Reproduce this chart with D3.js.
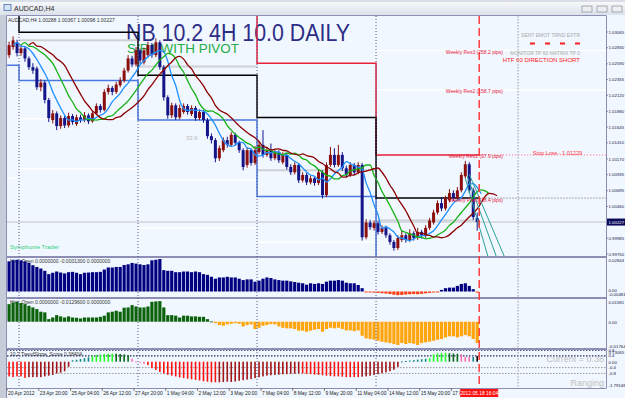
<!DOCTYPE html>
<html><head><meta charset="utf-8">
<script src="https://cdn.jsdelivr.net/npm/d3@7"></script>
<style>body{margin:0;background:#dfe4ec;overflow:hidden}svg{display:block}text{font-family:"Liberation Sans",Arial,sans-serif}</style>
</head><body><script>
// ---------------- DATA ----------------
const opens=[1.0272,1.0284,1.0291,1.0275,1.0282,1.0267,1.0254,1.0252,1.0224,1.0231,1.0205,1.0175,1.0185,1.0166,1.0178,1.0167,1.0181,1.0169,1.0179,1.0175,1.0182,1.0173,1.0185,1.0196,1.0190,1.0217,1.0223,1.0217,1.0227,1.0234,1.0249,1.0267,1.0258,1.0279,1.0261,1.0272,1.0287,1.0272,1.0291,1.0254,1.0209,1.0182,1.0197,1.0179,1.0187,1.0196,1.0184,1.0193,1.0178,1.0187,1.0175,1.0151,1.0145,1.0118,1.0130,1.0145,1.0138,1.0153,1.0141,1.0130,1.0108,1.0130,1.0111,1.0127,1.0138,1.0123,1.0130,1.0118,1.0127,1.0112,1.0123,1.0105,1.0097,1.0108,1.0085,1.0093,1.0082,1.0088,1.0081,1.0097,1.0063,1.0108,1.0123,1.0108,1.0123,1.0103,1.0093,1.0108,1.0097,1.0108,1.0000,1.0022,1.0014,1.0021,1.0008,1.0014,1.0003,0.9993,0.9984,0.9996,1.0003,0.9996,1.0006,0.9999,1.0008,1.0002,1.0014,1.0022,1.0037,1.0051,1.0043,1.0055,1.0066,1.0058,1.0070,1.0091,1.0109,1.0070,1.00288];
const highs=[1.0292,1.0300,1.0295,1.0288,1.0285,1.0270,1.0260,1.0255,1.0236,1.0234,1.0208,1.0190,1.0188,1.0182,1.0181,1.0186,1.0184,1.0183,1.0183,1.0187,1.0185,1.0189,1.0200,1.0199,1.0221,1.0228,1.0226,1.0232,1.0239,1.0253,1.0272,1.0271,1.0284,1.0282,1.0283,1.0292,1.0290,1.0297,1.0294,1.0257,1.0212,1.0201,1.0200,1.0198,1.0200,1.0199,1.0197,1.0196,1.0191,1.0190,1.0178,1.0155,1.0148,1.0137,1.0149,1.0150,1.0157,1.0156,1.0144,1.0133,1.0134,1.0133,1.0136,1.0143,1.0160,1.0135,1.0140,1.0131,1.0130,1.0127,1.0126,1.0109,1.0112,1.0111,1.0097,1.0096,1.0092,1.0091,1.0101,1.0100,1.0112,1.0135,1.0133,1.0138,1.0127,1.0107,1.0112,1.0111,1.0112,1.0111,1.0027,1.0026,1.0025,1.0024,1.0018,1.0017,1.0006,0.9996,1.0003,1.0010,1.0006,1.0012,1.0009,1.0014,1.0011,1.0018,1.0029,1.0041,1.0055,1.0060,1.0062,1.0072,1.0070,1.0075,1.0097,1.0114,1.0112,1.0074,1.00367];
const lows=[1.0268,1.0280,1.0270,1.0271,1.0262,1.0250,1.0244,1.0220,1.0218,1.0200,1.0172,1.0170,1.0160,1.0162,1.0163,1.0164,1.0168,1.0166,1.0171,1.0172,1.0169,1.0171,1.0182,1.0186,1.0188,1.0213,1.0212,1.0214,1.0224,1.0231,1.0246,1.0254,1.0255,1.0259,1.0258,1.0268,1.0268,1.0269,1.0250,1.0204,1.0177,1.0178,1.0175,1.0176,1.0184,1.0183,1.0181,1.0174,1.0175,1.0171,1.0147,1.0140,1.0112,1.0114,1.0127,1.0134,1.0135,1.0137,1.0126,1.0100,1.0104,1.0107,1.0108,1.0124,1.0119,1.0120,1.0114,1.0115,1.0111,1.0109,1.0101,1.0093,1.0094,1.0081,1.0082,1.0078,1.0079,1.0077,1.0078,1.0058,1.0060,1.0105,1.0104,1.0105,1.0099,1.0089,1.0090,1.0093,1.0094,0.9995,0.9997,1.0011,1.0010,1.0004,1.0005,0.9999,0.9989,0.9980,0.9981,0.9993,0.9992,0.9993,0.9995,0.9996,0.9998,0.9999,1.0011,1.0019,1.0034,1.0039,1.0040,1.0052,1.0054,1.0055,1.0067,1.0088,1.0066,1.0026,1.00098];
const closes=[1.0287,1.0294,1.0275,1.0282,1.0267,1.0254,1.0249,1.0224,1.0231,1.0205,1.0178,1.0185,1.0166,1.0178,1.0167,1.0181,1.0172,1.0179,1.0175,1.0182,1.0173,1.0185,1.0196,1.0190,1.0217,1.0223,1.0217,1.0228,1.0234,1.0249,1.0267,1.0258,1.0279,1.0264,1.0279,1.0287,1.0272,1.0291,1.0254,1.0209,1.0182,1.0197,1.0179,1.0193,1.0196,1.0187,1.0193,1.0178,1.0187,1.0175,1.0151,1.0145,1.0118,1.0133,1.0145,1.0138,1.0153,1.0141,1.0130,1.0105,1.0130,1.0111,1.0130,1.0138,1.0123,1.0130,1.0118,1.0127,1.0115,1.0123,1.0105,1.0097,1.0108,1.0085,1.0093,1.0082,1.0088,1.0081,1.0097,1.0063,1.0108,1.0123,1.0108,1.0123,1.0103,1.0093,1.0108,1.0097,1.0108,1.0000,1.0022,1.0015,1.0021,1.0008,1.0014,1.0003,0.9993,0.9984,0.9999,1.0003,0.9996,1.0006,0.9999,1.0008,1.0002,1.0014,1.0025,1.0037,1.0051,1.0043,1.0058,1.0066,1.0058,1.0070,1.0093,1.0109,1.0070,1.0030,1.00227];

const histA=[0.0264,0.0273,0.0278,0.0273,0.0264,0.0250,0.0230,0.0215,0.0201,0.0181,0.0152,0.0164,0.0175,0.0166,0.0158,0.0169,0.0172,0.0164,0.0152,0.0164,0.0166,0.0169,0.0169,0.0172,0.0192,0.0210,0.0210,0.0215,0.0215,0.0232,0.0238,0.0250,0.0244,0.0238,0.0232,0.0238,0.0273,0.0278,0.0284,0.0187,0.0181,0.0181,0.0169,0.0169,0.0175,0.0175,0.0169,0.0175,0.0169,0.0152,0.0146,0.0129,0.0112,0.0123,0.0123,0.0129,0.0123,0.0123,0.0112,0.0100,0.0106,0.0106,0.0086,0.0095,0.0112,0.0123,0.0118,0.0106,0.0100,0.0095,0.0095,0.0089,0.0083,0.0077,0.0072,0.0060,0.0072,0.0066,0.0072,0.0066,0.0086,0.0095,0.0095,0.0100,0.0095,0.0077,0.0072,0.0072,0.0057,0.0029,-0.0006,-0.0008,-0.0010,-0.0012,-0.0015,-0.0018,-0.0022,-0.0028,-0.0032,-0.0030,-0.0026,-0.0024,-0.0022,-0.0024,-0.0020,-0.0016,-0.0012,-0.0008,-0.0004,0.0014,0.0029,0.0034,0.0034,0.0049,0.0066,0.0072,0.0049,0.0020,-0.0009];
const histB=[0.0128,0.0140,0.0145,0.0136,0.0128,0.0116,0.0104,0.0092,0.0073,0.0068,0.0019,0.0031,0.0048,0.0039,0.0031,0.0039,0.0031,0.0029,0.0024,0.0031,0.0031,0.0031,0.0031,0.0036,0.0044,0.0068,0.0073,0.0080,0.0073,0.0102,0.0104,0.0121,0.0111,0.0104,0.0104,0.0111,0.0145,0.0148,0.0150,0.0104,0.0048,0.0048,0.0044,0.0031,0.0044,0.0044,0.0039,0.0039,0.0036,0.0036,0.0019,0.0002,-0.0010,-0.0024,-0.0029,-0.0019,-0.0015,-0.0010,-0.0015,-0.0034,-0.0024,-0.0019,-0.0053,-0.0044,-0.0029,-0.0024,-0.0017,-0.0019,-0.0034,-0.0044,-0.0048,-0.0048,-0.0053,-0.0065,-0.0065,-0.0073,-0.0065,-0.0058,-0.0053,-0.0073,-0.0053,-0.0044,-0.0048,-0.0044,-0.0053,-0.0063,-0.0063,-0.0068,-0.0063,-0.0102,-0.0121,-0.0126,-0.0131,-0.0138,-0.0145,-0.0150,-0.0155,-0.0162,-0.0169,-0.0155,-0.0162,-0.0155,-0.0160,-0.0169,-0.0155,-0.0150,-0.0145,-0.0138,-0.0131,-0.0126,-0.0114,-0.0106,-0.0106,-0.0114,-0.0106,-0.0097,-0.0106,-0.0126,-0.0155];
const slope=[-1.00,-1.05,-1.00,-1.00,-1.10,-1.05,-1.05,-1.05,-1.05,-1.00,-0.95,-0.90,-0.80,-0.75,-0.65,-0.35,0.10,0.13,0.18,0.24,0.30,0.40,0.45,0.50,0.53,0.55,0.55,0.55,0.53,0.50,0.45,0.20,0.02,-0.05,-0.15,-0.22,-0.44,-0.56,-0.70,-0.80,-0.89,-0.95,-1.00,-1.07,-1.11,-1.16,-1.20,-1.24,-1.28,-1.33,-1.36,-1.40,-1.40,-1.40,-1.38,-1.36,-1.38,-1.35,-1.30,-1.26,-1.22,-1.18,-1.12,-1.06,-1.00,-0.95,-0.92,-0.90,-0.88,-0.85,-0.85,-0.82,-0.82,-0.80,-0.80,-0.82,-0.85,-0.88,-0.90,-0.92,-0.95,-0.98,-1.00,-1.00,-1.02,-1.05,-1.05,-1.05,-1.05,-1.02,-1.00,-0.96,-0.90,-0.85,-0.78,-0.72,-0.65,-0.55,-0.35,0.02,0.05,0.08,0.11,0.14,0.17,0.20,0.24,0.50,0.58,0.60,0.60,0.58,0.56,0.55,0.52,0.33,0.33,0.33,0.38];
// indicator buffer of each slope bar: r falling-neg, d rising-neg, t weak-pos, l strong-pos, g fading-pos, p turning
const slopeState="rrrrrdddddddddddtttttllllllggggpppprrrrrrrrrrrrrrrrrrdddddddddddddddddddddrrrrrrrrrrrrrrrddddddddddtttttttlllllgggpppt";

// weekly levels: week start/end bars
const weekStart=[0,3,33,63,93], weekEnd=[2,32,62,92,118];
const pivotBlack=[1.0335,1.0306,1.0242,1.0179,1.00585];
const resRed=[1.0345,1.0345,1.0345,1.0260,1.01229];
const supBlue=[1.0257,1.0234,1.0175,1.0061,0.9940];
const lvlGray=[null,1.0294,1.0255,1.0100,1.0025];
const lvlWhiteA=[1.0088,1.0102,1.0085,null,null];
const lvlWhiteB=[null,1.0177,1.0014,0.9993,null];
const weeklyLabels=[["Weekly Res3 (258.2 pips)",1.0279],["Weekly Res2 (158.7 pips)",1.0220],["Weekly Res1 (97.9 pips)",1.01229],["Weekly Pivot (38.4 pips)",1.00585]];

const priceTicks=[1.03065,1.02830,1.02590,1.02355,1.02120,1.01880,1.01645,1.01410,1.01170,1.00935,1.00695,1.00460,0.99985,0.99750];
const timeLabels=[["20 Apr 2012",0],["23 Apr 20:00",8],["25 Apr 04:00",16],["26 Apr 12:00",24],["27 Apr 20:00",32],["1 May 04:00",40],["2 May 12:00",48],["3 May 20:00",56],["7 May 04:00",64],["8 May 12:00",72],["9 May 20:00",80],["11 May 04:00",88],["14 May 12:00",96],["15 May 20:00",104],["17 May 04:00",112]];
const separators=[2.5,32.5,62.5,92.5];
const tealProj=[[[115,1.0088],[121,0.9965]],[[115.5,1.0091],[123.2,0.9965]],[[116,1.0094],[125.3,0.9965]]];

// ---------------- CHART ----------------
const W=625,H=398,PL=7,PR=606;
const svg=d3.select("body").append("svg").attr("width",W).attr("height",H);
const x=d3.scaleLinear().domain([0,118]).range([9.1,477.2]);
const yM=d3.scaleLinear().domain([0.99750,1.03065]).range([254,32]);
const y2=d3.scaleLinear().domain([-0.00481,0.02844]).range([297,259]);
const y3=d3.scaleLinear().domain([-0.01764,0.01581]).range([346,300]);
const y4=d3.scaleLinear().domain([-1.79148,0.73065]).range([388,351]);
const panes={main:[16,256],p2:[258,297],p3:[299,348],p4:[350,388]};

const defs=svg.append("defs");
const g1=defs.append("linearGradient").attr("id","tb").attr("x1",0).attr("y1",0).attr("x2",0).attr("y2",1);
g1.append("stop").attr("offset",0).attr("stop-color","#f6f8fb");
g1.append("stop").attr("offset",1).attr("stop-color","#dbe1ea");
Object.entries(panes).forEach(([k,[a,b]])=>{
  defs.append("clipPath").attr("id","c_"+k).append("rect").attr("x",PL).attr("y",a).attr("width",PR-PL).attr("height",b-a);
});

// window chrome
svg.append("rect").attr("width",W).attr("height",H).attr("fill","#d9dfe8");
svg.append("rect").attr("x",0).attr("y",2).attr("width",W).attr("height",13).attr("fill","url(#tb)");
svg.append("rect").attr("x",4).attr("y",4.5).attr("width",7).attr("height",6).attr("fill","#d4e4f7").attr("stroke","#4a6ea8").attr("stroke-width",0.8);
svg.append("text").attr("x",14).attr("y",11).attr("font-size",7).attr("fill","#2a2a2a").text("AUDCAD,H4");
[582,597,612].forEach(bx=>svg.append("rect").attr("x",bx).attr("y",6).attr("width",10).attr("height",6).attr("fill","#eceef2").attr("stroke","#8a8f99").attr("stroke-width",0.7));
svg.append("rect").attr("x",6).attr("y",15).attr("width",W-6).attr("height",H-15).attr("fill","#f0f7ff");
svg.append("rect").attr("x",0).attr("y",15).attr("width",6).attr("height",H-15).attr("fill","#c6cdd8");

// pane frame lines
[256.5,297.5,348.5].forEach(yy=>svg.append("line").attr("x1",PL).attr("x2",PR).attr("y1",yy+0.5).attr("y2",yy+0.5).attr("stroke","#8d8db5").attr("stroke-width",2));
svg.append("line").attr("x1",PL).attr("x2",PR).attr("y1",388.5).attr("y2",388.5).attr("stroke","#8d8db5").attr("stroke-width",1);
svg.append("line").attr("x1",PR+0.5).attr("x2",PR+0.5).attr("y1",15.5).attr("y2",388.5).attr("stroke","#8d8db5").attr("stroke-width",1);
svg.append("line").attr("x1",6.5).attr("x2",PR).attr("y1",15.5).attr("y2",15.5).attr("stroke","#8d8db5").attr("stroke-width",1);
svg.append("line").attr("x1",6.5).attr("x2",6.5).attr("y1",15.5).attr("y2",398).attr("stroke","#8d8db5").attr("stroke-width",1);

// ---- main pane ----
const gm=svg.append("g").attr("clip-path","url(#c_main)");
gm.append("text").attr("x",126).attr("y",41).attr("font-size",23).attr("fill","#2d2d86").attr("textLength",224).attr("lengthAdjust","spacingAndGlyphs").text("NB 10.2 4H 10.0 DAILY");
gm.append("text").attr("x",127).attr("y",53).attr("font-size",13.5).attr("fill","#24ad45").attr("textLength",112).attr("lengthAdjust","spacingAndGlyphs").text("S/R1 WITH PIVOT");
gm.append("text").attr("x",8).attr("y",22).attr("font-size",5).attr("fill","#333").text("AUDCAD,H4  1.00288 1.00367 1.00098 1.00227");
gm.append("text").attr("x",186).attr("y",140).attr("font-size",6).attr("fill","#b8b8b8").text("33.6");
gm.append("text").attr("x",10).attr("y",249).attr("font-size",6).attr("fill","#33d17a").text("Symphonie Trader");

gm.append("line").attr("x1",PL).attr("x2",PR).attr("y1",yM(1.00227)).attr("y2",yM(1.00227)).attr("stroke","#c4c4c4").attr("stroke-width",1);

function weekPath(levels){
  const pts=[];
  levels.forEach((lv,k)=>{ if(lv==null) return; pts.push([weekStart[k]-0.5,lv]); pts.push([weekEnd[k]+0.5,lv]); });
  return pts;
}
function weekSegs(g,levels,color,w){
  levels.forEach((lv,k)=>{ if(lv==null) return;
    g.append("line").attr("x1",x(weekStart[k]-0.5)).attr("x2",x(weekEnd[k]+0.5)).attr("y1",yM(lv)).attr("y2",yM(lv)).attr("stroke",color).attr("stroke-width",w);});
}
const stepLine=d3.line().x(d=>x(d[0])).y(d=>yM(d[1]));
weekSegs(gm,lvlGray,"#cfd0d3",2);
weekSegs(gm,lvlWhiteA,"#ffffff",1.5);
weekSegs(gm,lvlWhiteB,"#ffffff",1.5);
[1.0279,1.0220].forEach(v=>gm.append("line").attr("x1",x(92.5)).attr("x2",PR).attr("y1",yM(v)).attr("y2",yM(v)).attr("stroke","#ffffff").attr("stroke-width",1.5));
gm.append("line").attr("x1",x(118.5)).attr("x2",PR).attr("y1",yM(1.01229)).attr("y2",yM(1.01229)).attr("stroke","#ff6070").attr("stroke-width",1).attr("stroke-dasharray","1,2");
gm.append("line").attr("x1",x(118.5)).attr("x2",PR).attr("y1",yM(1.00585)).attr("y2",yM(1.00585)).attr("stroke","#909090").attr("stroke-width",1).attr("stroke-dasharray","1.5,1.5");

gm.append("path").attr("d",stepLine(weekPath(supBlue))).attr("fill","none").attr("stroke","#4a78e0").attr("stroke-width",1.5);
gm.append("path").attr("d",stepLine(weekPath(resRed))).attr("fill","none").attr("stroke","#e8203a").attr("stroke-width",1.5);
gm.append("path").attr("d",stepLine(weekPath(pivotBlack))).attr("fill","none").attr("stroke","#000000").attr("stroke-width",1.5);

// candles
const up="#8b0f0f", dn="#15158a";
closes.forEach((c,i)=>{
  const o=opens[i], col=c>=o?up:dn;
  gm.append("line").attr("x1",x(i)).attr("x2",x(i)).attr("y1",yM(highs[i])).attr("y2",yM(lows[i])).attr("stroke",col).attr("stroke-width",1);
  const t=yM(Math.max(o,c)), b=yM(Math.min(o,c));
  gm.append("rect").attr("x",x(i)-1.5).attr("y",t).attr("width",3).attr("height",Math.max(1,b-t)).attr("fill",col);
});

// moving averages (displaced SMA of closes)
function sma(arr,n){return arr.map((v,i)=>d3.mean(arr.slice(Math.max(0,i-n+1),i+1)));}
const maLine=d3.line().x(d=>x(d[0])).y(d=>yM(d[1])).curve(d3.curveMonotoneX);
[[5,1,"#1e8fff"],[8,3,"#17b017"],[10,5,"#8b0000"]].forEach(([n,s,col])=>{
  const m=sma(closes,n).map((v,i)=>[i+s,v]);
  gm.append("path").attr("d",maLine(m)).attr("fill","none").attr("stroke",col).attr("stroke-width",1.3);
});
tealProj.forEach(seg=>gm.append("line").attr("x1",x(seg[0][0])).attr("y1",yM(seg[0][1])).attr("x2",x(seg[1][0])).attr("y2",yM(seg[1][1])).attr("stroke","#2aa198").attr("stroke-width",1));

weeklyLabels.forEach(([t,v])=>gm.append("text").attr("x",503).attr("y",yM(v)+3.5).attr("text-anchor","end").attr("font-size",5).attr("fill","#e8203a").text(t));
gm.append("text").attr("x",582).attr("y",155).attr("text-anchor","end").attr("font-size",5.5).attr("fill","#ff3040").text("Stop Loss - 1.01229");
gm.append("text").attr("x",580).attr("y",37).attr("text-anchor","end").attr("font-size",5).attr("fill","#a8a8a8").text("SENT EMOT TRND EXTR");
[530,545,560,575].forEach(dx=>gm.append("rect").attr("x",dx).attr("y",42.5).attr("width",5).attr("height",2).attr("fill","#ff2020"));
gm.append("text").attr("x",580).attr("y",55).attr("text-anchor","end").attr("font-size",5).attr("fill","#a8a8a8").text("MONITOR TP 60 MATRIX TP 0");
gm.append("text").attr("x",580).attr("y",61.5).attr("text-anchor","end").attr("font-size",6).attr("fill","#ff2020").text("HTF 60 DIRECTION SHORT");

// ---- pane 2 ----
const gp2=svg.append("g").attr("clip-path","url(#c_p2)");
gp2.append("text").attr("x",10).attr("y",263).attr("font-size",5).attr("fill","#333").text("Hist_Open 0.0000000 -0.0001300 0.0000000");
histA.forEach((v,i)=>{
  const a=y2(0), b=y2(v);
  if(v>=0) gp2.append("rect").attr("x",x(i)-1.6).attr("y",b).attr("width",3.2).attr("height",a-b).attr("fill","#000080");
  else gp2.append("rect").attr("x",x(i)-1.6).attr("y",a).attr("width",3.2).attr("height",Math.max(1,b-a)).attr("fill","#ff3a10");
});
// ---- pane 3 ----
const gp3=svg.append("g").attr("clip-path","url(#c_p3)");
gp3.append("text").attr("x",10).attr("y",304).attr("font-size",5).attr("fill","#333").text("Hist_Open 0.0000000 -0.0129600 0.0000000");
histB.forEach((v,i)=>{
  const a=y3(0), b=y3(v);
  gp3.append("rect").attr("x",x(i)-1.6).attr("y",Math.min(a,b)).attr("width",3.2).attr("height",Math.max(0.8,Math.abs(b-a))).attr("fill",v>=0?"#0b620b":"#ffa40a");
});
// ---- pane 4 ----
const gp4=svg.append("g").attr("clip-path","url(#c_p4)");
[[0.8,"#2a2a5a"],[0.4,"#2a2a5a"],[-0.4,"#999"],[-0.8,"#999"]].forEach(([v,c])=>gp4.append("line").attr("x1",PL).attr("x2",PR).attr("y1",y4(v)).attr("y2",y4(v)).attr("stroke",c).attr("stroke-width",v>0?1.3:1).attr("stroke-dasharray","1.5,1.5"));
gp4.append("text").attr("x",10).attr("y",356).attr("font-size",5).attr("fill","#333").text("10.2 TrendSlope_Score 0.38404");
const sc={r:"#ff1010",d:"#a01515",t:"#0e8a84",l:"#22ff22",g:"#0a6a1a",p:"#ff70b0"};
slope.forEach((v,i)=>{
  const a=y4(0), b=y4(v);
  gp4.append("rect").attr("x",x(i)-0.8).attr("y",Math.min(a,b)).attr("width",1.6).attr("height",Math.max(1,Math.abs(b-a))).attr("fill",sc[slopeState[i]]);
});
gp4.append("text").attr("x",604).attr("y",362).attr("text-anchor","end").attr("font-size",9).attr("fill","#c0c0c0").text("Current = 0.38");
gp4.append("text").attr("x",604).attr("y",386).attr("text-anchor","end").attr("font-size",9).attr("fill","#c0c0c0").text("Ranging");

// vertical markers across panes
separators.forEach(s=>svg.append("line").attr("x1",x(s)).attr("x2",x(s)).attr("y1",16).attr("y2",388).attr("stroke","#5a5a8a").attr("stroke-width",1).attr("stroke-dasharray","1,2"));
svg.append("line").attr("x1",x(128.3)).attr("x2",x(128.3)).attr("y1",16).attr("y2",388).attr("stroke","#9a9aaa").attr("stroke-width",1).attr("stroke-dasharray","1.5,1.5");
svg.append("line").attr("x1",x(118.5)).attr("x2",x(118.5)).attr("y1",16).attr("y2",388).attr("stroke","#ff3030").attr("stroke-width",1.4).attr("stroke-dasharray","8,4");

// right axes
const ax=svg.append("g").attr("font-size",4.4).attr("fill","#20204a");
function rtext(yv,t,fill){
  const n=t.replace(/[-.]/g,"").length, w=Math.min(17.5,n*2.45+ (t.includes(".")?1:0)+(t.includes("-")?1.5:0));
  return ax.append("text").attr("x",PR+2.5).attr("y",yv).attr("textLength",w).attr("lengthAdjust","spacingAndGlyphs").attr("fill",fill||"#20204a").text(t);
}
priceTicks.forEach(v=>{
  ax.append("line").attr("x1",PR).attr("x2",PR+2).attr("y1",yM(v)).attr("y2",yM(v)).attr("stroke","#6a6a9a").attr("stroke-width",0.7);
  rtext(yM(v)+1.6,d3.format(".5f")(v));
});
ax.append("rect").attr("x",PR+1).attr("y",yM(1.00227)-3.5).attr("width",19).attr("height",7).attr("fill","#0a0a5a");
rtext(yM(1.00227)+1.6,"1.00227","#ffffff");
[[0.02844,"0.02844",261.5],[0,"0.00",291.5],[-0.00481,"-0.00481",296]].forEach(([v,t,yy])=>rtext(yy,t));
[[0.01581,"0.01581",303.5],[0,"0.00",324],[-0.01764,"-0.01764",347.5]].forEach(([v,t,yy])=>rtext(yy,t));
[["0.8",351.5],["0.73065",354],["0.4",356.8],["0.00",363.5],["-0.4",369],["-0.8",375],["-1.79148",386.5]].forEach(([t,yy])=>rtext(yy,t));

// time axis
const ta=svg.append("g").attr("font-size",4.9).attr("fill","#222");
timeLabels.forEach(([t,i])=>{
  ta.append("line").attr("x1",x(i)-2).attr("x2",x(i)-2).attr("y1",388).attr("y2",391).attr("stroke","#555").attr("stroke-width",0.7);
  ta.append("text").attr("x",x(i)-1).attr("y",395).text(t);
});
ta.append("rect").attr("x",x(118.5)-19).attr("y",389).attr("width",38).attr("height",8).attr("fill","#ff1010");
ta.append("text").attr("x",x(118.5)).attr("y",395).attr("text-anchor","middle").attr("fill","#fff").text("2012.05.18 16:04");
</script></body></html>
